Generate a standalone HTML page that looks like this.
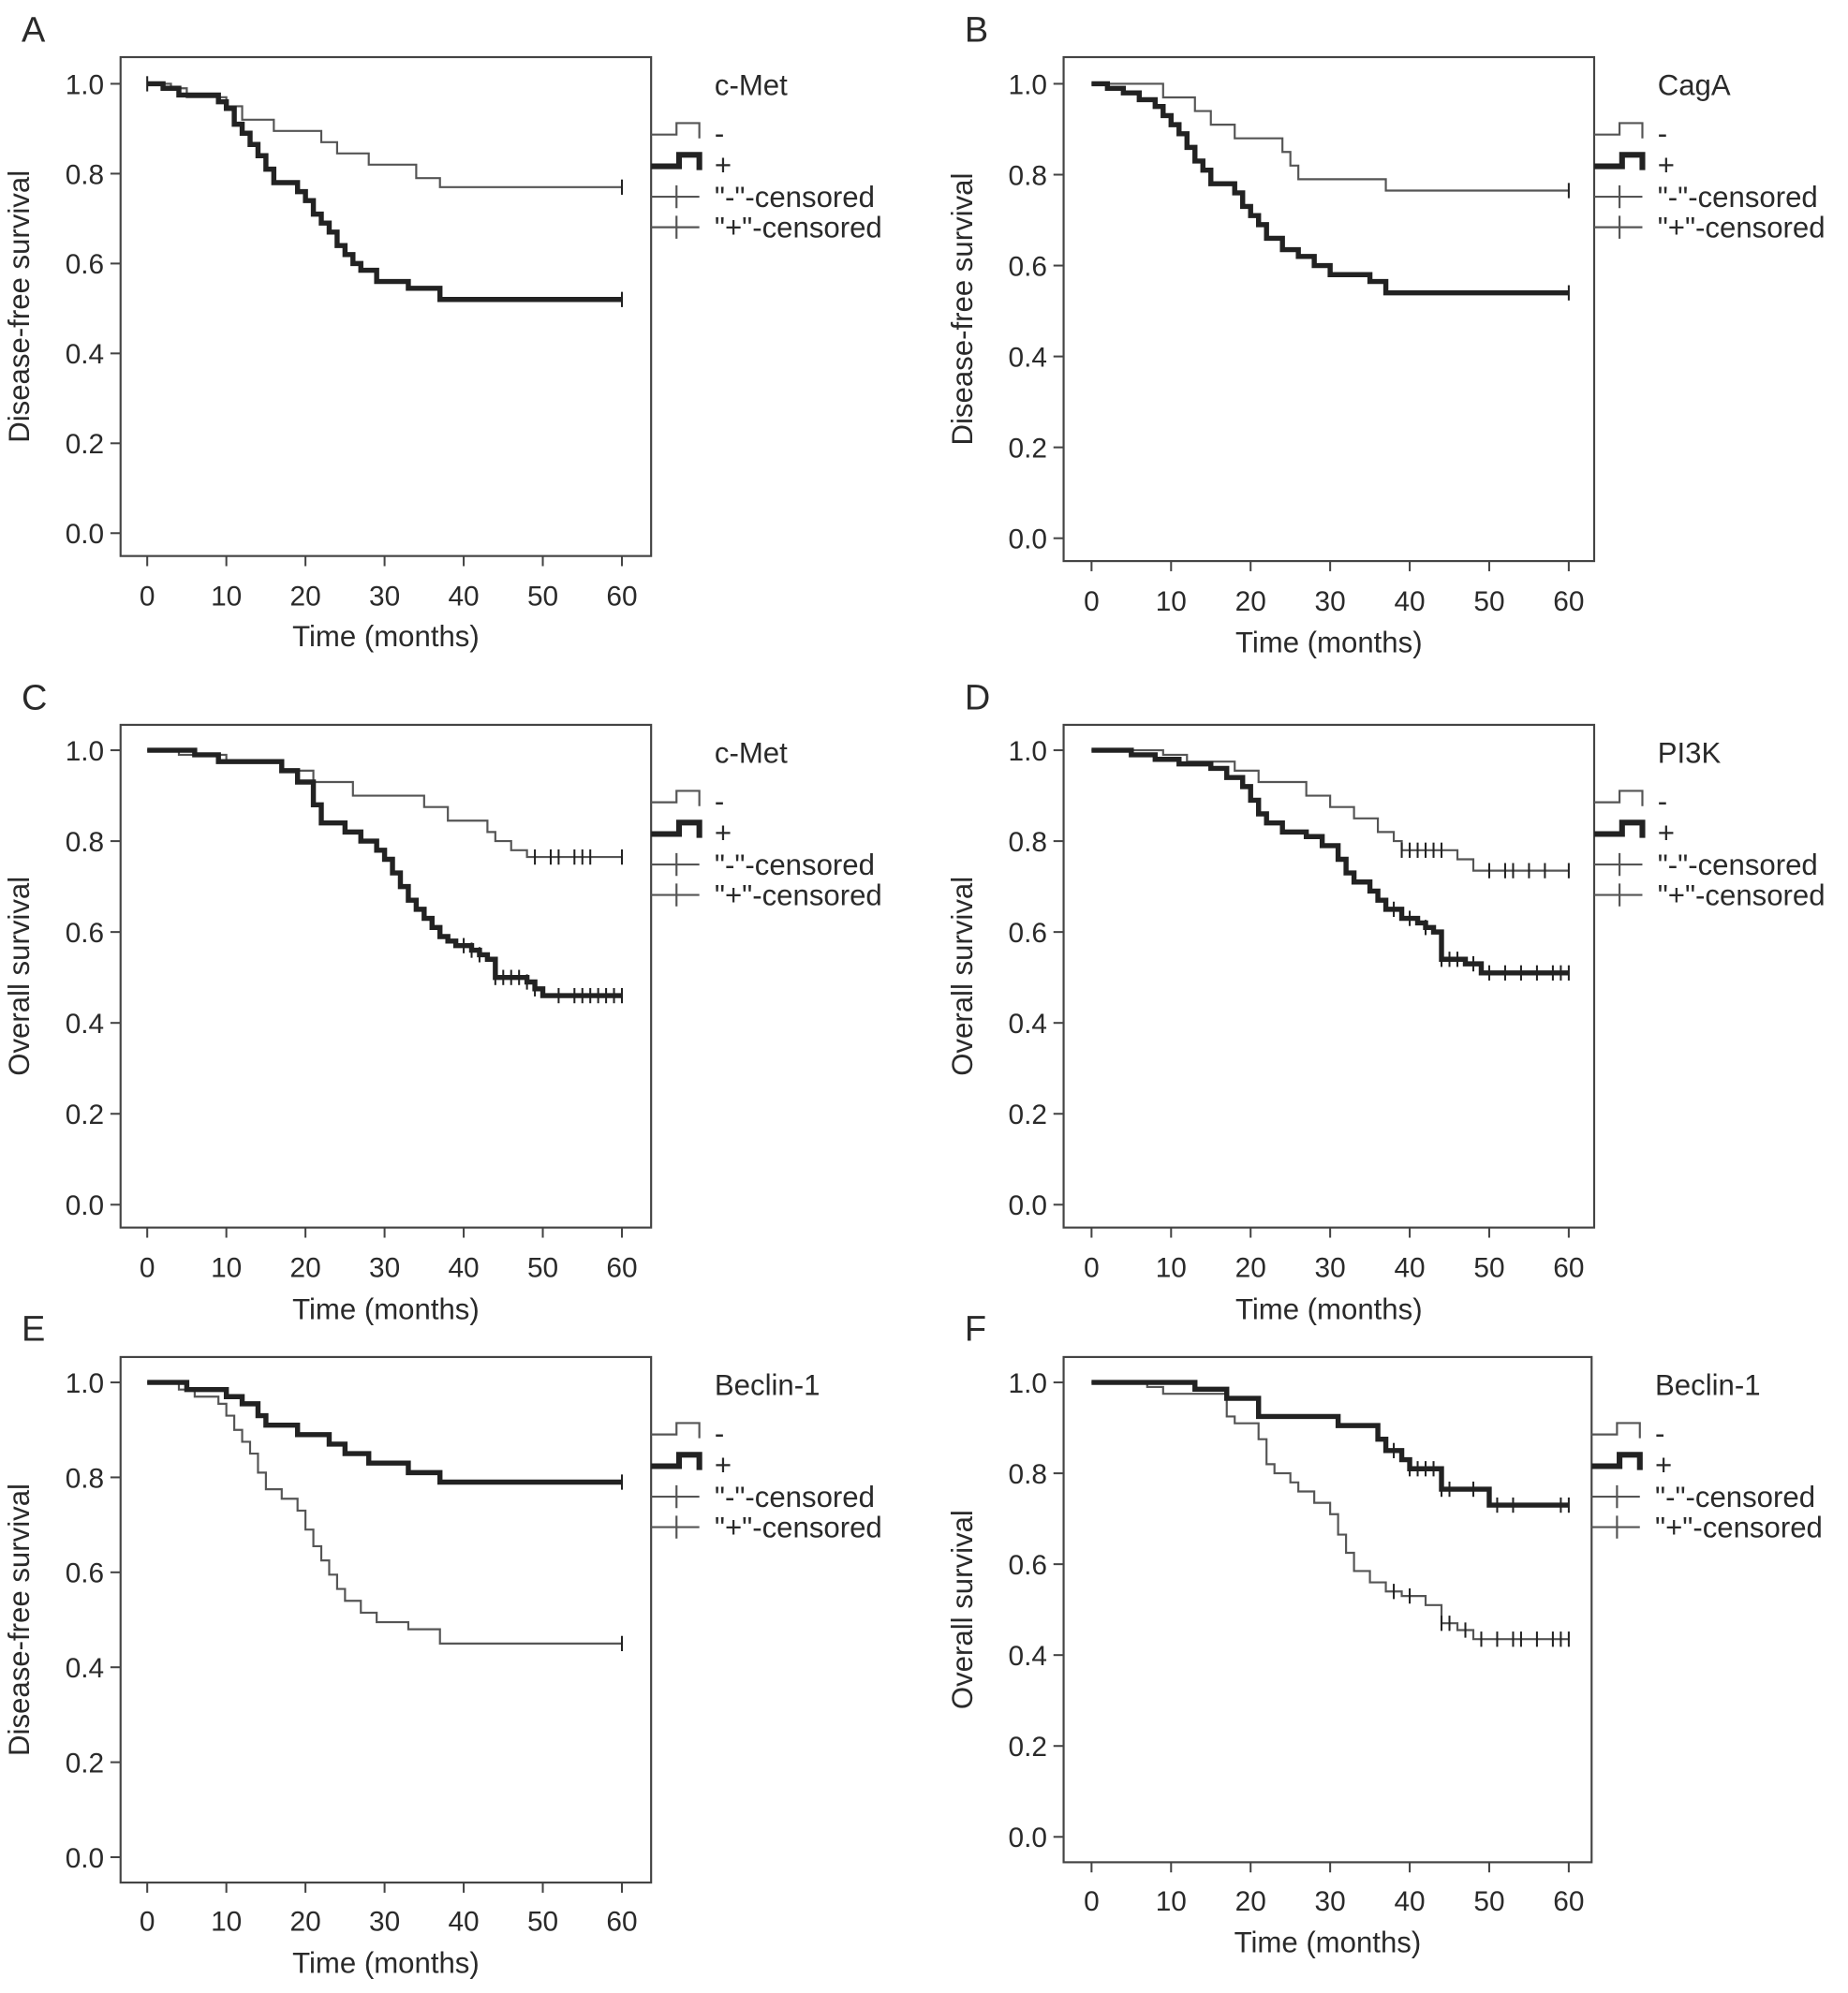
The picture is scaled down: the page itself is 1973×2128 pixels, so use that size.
<!DOCTYPE html>
<html><head><meta charset="utf-8"><style>
html,body{margin:0;padding:0;background:#fff;width:1973px;height:2128px;overflow:hidden}
svg{display:block}
text{font-family:"Liberation Sans",Arial,sans-serif;fill:#2a2a2a}
</style></head><body>
<svg id="fig" width="1973" height="2128" viewBox="0 0 1456 1570" preserveAspectRatio="none" xmlns="http://www.w3.org/2000/svg"></svg>
<script>
// ---- data ----
const panelLetters = ["A","B","C","D","E","F"];
const panelYTitles = ["Disease-free survival","Disease-free survival","Overall survival","Overall survival","Disease-free survival","Overall survival"];
const panelMarkers = ["c-Met","CagA","c-Met","PI3K","Beclin-1","Beclin-1"];
const xTicks = [0,10,20,30,40,50,60];
const yTicks = [0.0,0.2,0.4,0.6,0.8,1.0];
const yTickLabels = ["0.0","0.2","0.4","0.6","0.8","1.0"];
const legendLabels = ["-","+","\"-\"-censored","\"+\"-censored"];

// panel A
const aNegT = [0,3,5,10,12,16,22,24,28,34,37,60];
const aNegS = [1,0.99,0.97,0.95,0.92,0.895,0.87,0.845,0.82,0.79,0.77,0.77];
const aNegC = [60];
const aPosT = [0,2,4,9,10,11,12,13,14,15,16,19,20,21,22,23,24,25,26,27,29,33,37,60];
const aPosS = [1,0.99,0.975,0.96,0.945,0.91,0.89,0.865,0.84,0.81,0.78,0.76,0.74,0.71,0.69,0.67,0.64,0.62,0.6,0.585,0.56,0.545,0.52,0.52];
const aPosC = [0,60];
// panel B
const bNegT = [0,9,13,15,18,24,25,26,37,60];
const bNegS = [1,0.97,0.94,0.91,0.88,0.85,0.82,0.79,0.765,0.765];
const bNegC = [60];
const bPosT = [0,2,4,6,8,9,10,11,12,13,14,15,18,19,20,21,22,24,26,28,30,35,37,60];
const bPosS = [1,0.99,0.98,0.965,0.95,0.93,0.91,0.89,0.86,0.83,0.81,0.78,0.76,0.73,0.71,0.69,0.66,0.635,0.62,0.6,0.58,0.565,0.54,0.54];
const bPosC = [60];
// panel C
const cNegT = [0,4,10,17,21,26,35,38,43,44,46,48,60];
const cNegS = [1,0.99,0.975,0.955,0.93,0.9,0.875,0.845,0.82,0.8,0.78,0.765,0.765];
const cNegC = [49,51,52,54,55,56,60];
const cPosT = [0,6,9,17,19,21,22,25,27,29,30,31,32,33,34,35,36,37,38,39,41,42,43,44,48,49,50,60];
const cPosS = [1,0.99,0.975,0.955,0.93,0.88,0.84,0.82,0.8,0.78,0.76,0.73,0.7,0.67,0.65,0.63,0.61,0.59,0.58,0.57,0.56,0.55,0.54,0.5,0.49,0.475,0.46,0.46];
const cPosC = [40,41,42,44,45,46,47,48,49,52,54,55,56,57,58,59,60];
// panel D
const dNegT = [0,9,12,18,21,27,30,33,36,38,39,46,48,60];
const dNegS = [1,0.99,0.975,0.955,0.93,0.9,0.875,0.85,0.82,0.8,0.78,0.76,0.735,0.735];
const dNegC = [39,40,41,42,43,44,50,52,53,55,57,60];
const dPosT = [0,5,8,11,15,17,19,20,21,22,24,27,29,31,32,33,35,36,37,39,41,42,43,44,47,49,60];
const dPosS = [1,0.99,0.98,0.97,0.96,0.94,0.92,0.89,0.86,0.84,0.82,0.81,0.79,0.76,0.73,0.71,0.69,0.67,0.65,0.63,0.62,0.61,0.6,0.54,0.53,0.51,0.51];
const dPosC = [38,40,42,44,45,46,48,50,52,54,56,58,59,60];
// panel E
const eNegT = [0,4,6,9,10,11,12,13,14,15,17,19,20,21,22,23,24,25,27,29,33,37,60];
const eNegS = [1,0.985,0.97,0.955,0.93,0.9,0.875,0.85,0.81,0.775,0.755,0.73,0.69,0.655,0.625,0.595,0.565,0.54,0.515,0.495,0.48,0.45,0.45];
const eNegC = [60];
const ePosT = [0,5,10,12,14,15,19,23,25,28,33,37,60];
const ePosS = [1,0.985,0.97,0.955,0.93,0.91,0.89,0.87,0.85,0.83,0.81,0.79,0.79];
const ePosC = [60];
// panel F
const fNegT = [0,7,9,17,18,21,22,23,25,26,28,30,31,32,33,35,37,39,42,44,46,48,60];
const fNegS = [1,0.99,0.975,0.925,0.91,0.875,0.82,0.8,0.78,0.76,0.735,0.71,0.665,0.625,0.585,0.56,0.54,0.53,0.51,0.47,0.455,0.435,0.435];
const fNegC = [38,40,44,45,47,49,51,53,54,56,58,59,60];
const fPosT = [0,13,17,21,31,36,37,39,40,44,50,60];
const fPosS = [1,0.985,0.965,0.925,0.905,0.875,0.85,0.83,0.81,0.765,0.73,0.73];
const fPosC = [38,40,41,42,43,44,45,48,51,53,59,60];

const panelSeries = [
 {negT:aNegT,negS:aNegS,negC:aNegC,posT:aPosT,posS:aPosS,posC:aPosC},
 {negT:bNegT,negS:bNegS,negC:bNegC,posT:bPosT,posS:bPosS,posC:bPosC},
 {negT:cNegT,negS:cNegS,negC:cNegC,posT:cPosT,posS:cPosS,posC:cPosC},
 {negT:dNegT,negS:dNegS,negC:dNegC,posT:dPosT,posS:dPosS,posC:dPosC},
 {negT:eNegT,negS:eNegS,negC:eNegC,posT:ePosT,posS:ePosS,posC:ePosC},
 {negT:fNegT,negS:fNegS,negC:fNegC,posT:fPosT,posS:fPosS,posC:fPosC}
];
// ---- layout (in 1456x1570 view units) ----
const layouts = [
 {L:95,R:513,T:45,B:438,y1:66,y0:420,x0:116,x60:490,tickY:477,labY:509,capY:31},
 {L:838,R:1256,T:45,B:442,y1:66,y0:424,x0:860,x60:1236,tickY:481,labY:514,capY:31},
 {L:95,R:513,T:571,B:967,y1:591,y0:949,x0:116,x60:490,tickY:1006,labY:1039,capY:557},
 {L:838,R:1256,T:571,B:967,y1:591,y0:949,x0:860,x60:1236,tickY:1006,labY:1039,capY:557},
 {L:95,R:513,T:1069,B:1483,y1:1089,y0:1463,x0:116,x60:490,tickY:1521,labY:1554,capY:1054},
 {L:838,R:1254,T:1069,B:1467,y1:1089,y0:1447,x0:860,x60:1236,tickY:1505,labY:1538,capY:1054}
];
const NS="http://www.w3.org/2000/svg";
const svg=document.getElementById('fig');
function mk(tag,attrs,parent){const e=document.createElementNS(NS,tag);for(const k in attrs)e.setAttribute(k,attrs[k]);(parent||svg).appendChild(e);return e;}
function stepAt(T,S,t){let v=S[0];for(let i=0;i<T.length;i++){if(T[i]<=t)v=S[i];}return v;}

layouts.forEach((lo,p)=>{
  const g=mk('g',{});
  
  
  const xs=t=>lo.x0+(lo.x60-lo.x0)*t/60;
  const ys=v=>lo.y0+(lo.y1-lo.y0)*v;
  const cap=mk('text',{x:lo.L-78,y:lo.capY+2,'font-size':28},g);
  cap.textContent=panelLetters[p];
  
  
  const box=mk('rect',{x:lo.L,y:lo.T,width:lo.R-lo.L,height:lo.B-lo.T,fill:'none',stroke:'#444','stroke-width':1.6},g);
  
  
  yTicks.forEach((v,i)=>{
    mk('line',{x1:lo.L-8,x2:lo.L,y1:ys(v),y2:ys(v),stroke:'#444','stroke-width':1.5},g);
    const t=mk('text',{x:lo.L-13,y:ys(v)+8,'font-size':22,'text-anchor':'end'},g);
    t.textContent=yTickLabels[i];
    
    
  });
  xTicks.forEach(v=>{
    mk('line',{x1:xs(v),x2:xs(v),y1:lo.B,y2:lo.B+8,stroke:'#444','stroke-width':1.5},g);
    const t=mk('text',{x:xs(v),y:lo.tickY,'font-size':22,'text-anchor':'middle'},g);
    t.textContent=v;
    
    
  });
  const xt=mk('text',{x:(lo.L+lo.R)/2,y:lo.labY,'font-size':23,'text-anchor':'middle'},g);
  xt.textContent='Time (months)';
  
  
  const cy=(lo.T+lo.B)/2, cx=lo.L-72;
  const yt=mk('text',{x:cx,y:cy,'font-size':23,'text-anchor':'middle',transform:`rotate(-90 ${cx} ${cy})`},g);
  yt.textContent=panelYTitles[p];
  
  
  const s=panelSeries[p];
  [['neg',s.negT,s.negS,s.negC,1.6,'#555'],['pos',s.posT,s.posS,s.posC,4,'#222']].forEach(([nm,T,S,C,w,col])=>{
    let d=`M${xs(T[0])},${ys(S[0])}`;
    for(let i=1;i<T.length;i++){d+=` H${xs(T[i])} V${ys(S[i])}`;}
    const path=mk('path',{d:d,fill:'none',stroke:col,'stroke-width':w},g);
    
    
    C.forEach(t=>{
      const v=stepAt(T,S,t);
      const c=mk('path',{d:`M${xs(t)},${ys(v)-6} V${ys(v)+6}`,stroke:'#222','stroke-width':1.5},g);
      
      
    });
  });
  const lx=lo.R, mt=mk('text',{x:lo.R+50,y:lo.T+30,'font-size':23},g);
  mt.textContent=panelMarkers[p];
  
  
  const ly=[lo.T+60,lo.T+85,lo.T+110,lo.T+134];
  mk('path',{d:`M${lx},${ly[0]+1} H${lx+20} V${ly[0]-8} H${lx+38} V${ly[0]+4}`,fill:'none',stroke:'#555','stroke-width':1.6},g);
  mk('path',{d:`M${lx},${ly[1]+1} H${lx+22} V${ly[1]-8} H${lx+38} V${ly[1]+4}`,fill:'none',stroke:'#222','stroke-width':4.5},g);
  mk('path',{d:`M${lx},${ly[2]} H${lx+38} M${lx+20},${ly[2]-9} V${ly[2]+9}`,stroke:'#555','stroke-width':1.6},g);
  mk('path',{d:`M${lx},${ly[3]} H${lx+38} M${lx+20},${ly[3]-9} V${ly[3]+9}`,stroke:'#555','stroke-width':1.6},g);
  legendLabels.forEach((lab,i)=>{
    const t=mk('text',{x:lx+50,y:ly[i]+8,'font-size':23},g);
    t.textContent=lab;
    
    
  });
});
</script>
</body></html>
